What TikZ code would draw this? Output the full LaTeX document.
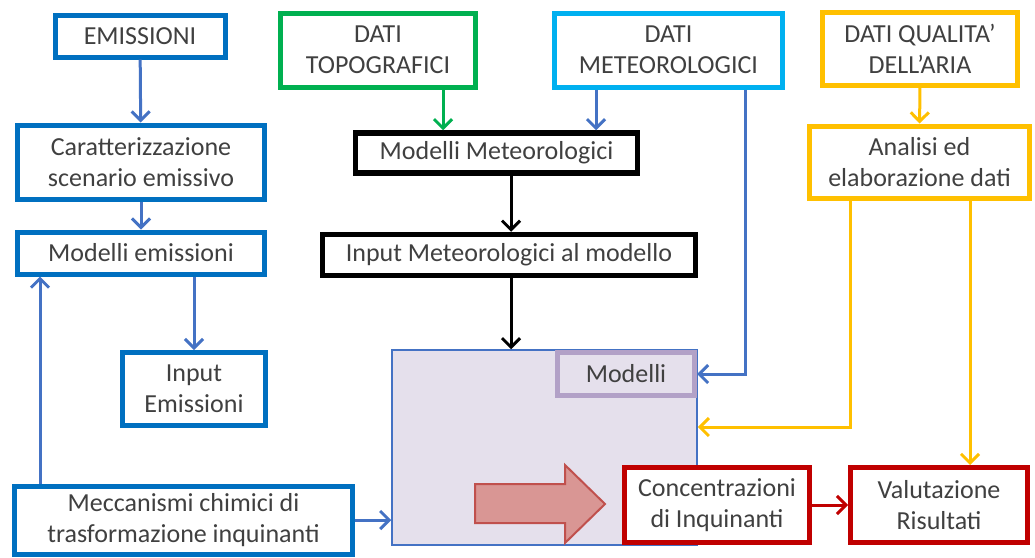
\documentclass[tikz,border=0pt]{standalone}
\usepackage{fontspec}
\setmainfont{Carlito}
\usetikzlibrary{arrows.meta}
\definecolor{boxblue}{RGB}{0,112,192}
\definecolor{lineblue}{RGB}{68,114,196}
\definecolor{topogreen}{RGB}{0,176,80}
\definecolor{meteoblue}{RGB}{0,176,240}
\definecolor{qorange}{RGB}{255,192,0}
\definecolor{dred}{RGB}{192,0,0}
\definecolor{lav}{RGB}{229,224,236}
\definecolor{purp}{RGB}{178,161,199}
\definecolor{bigarrowfill}{RGB}{217,150,148}
\definecolor{bigarrowdraw}{RGB}{192,80,77}
\definecolor{txt}{RGB}{64,64,64}
\begin{document}
\begin{tikzpicture}[x=1pt,y=-1pt,
  box/.style={draw, line width=5pt, fill=white, align=center, inner sep=0pt,
    font=\fontsize{26}{31}\selectfont, text=txt},
  conn/.style={line width=3pt, -{Straight Barb[length=9pt,width=18pt,line width=3pt]}},
]
\useasboundingbox[fill=white] (0,0) rectangle (1035,557);

% left column
\node[box, draw=boxblue, minimum width=170pt, minimum height=42pt] (emis) at (140,36) {EMISSIONI};
\node[box, draw=boxblue, minimum width=247pt, minimum height=74pt] (carat) at (141,162) {Caratterizzazione\\scenario emissivo};
\node[box, draw=boxblue, minimum width=247pt, minimum height=42pt] (modem) at (141,253) {Modelli emissioni};
\node[box, draw=boxblue, minimum width=143pt, minimum height=73pt] (inpem) at (194,389) {Input\\Emissioni};
\node[box, draw=boxblue, minimum width=338pt, minimum height=68pt] (mecc) at (183.5,520) {Meccanismi chimici di\\trasformazione inquinanti};

% top data
\node[box, draw=topogreen, minimum width=195pt, minimum height=74pt] (topo) at (378,50) {DATI\\TOPOGRAFICI};
\node[box, draw=meteoblue, minimum width=228pt, minimum height=74pt] (meteo) at (668.5,50) {DATI\\METEOROLOGICI};
\node[box, draw=qorange, minimum width=195pt, minimum height=73pt] (qual) at (920,49) {DATI QUALITA’\\DELL’ARIA};
\node[box, draw=qorange, minimum width=220pt, minimum height=72pt] (anal) at (919.5,162) {Analisi ed\\elaborazione dati};

% meteo models
\node[box, draw=black, line width=5.5pt, minimum width=282pt, minimum height=40pt] (mmet) at (496.5,153) {Modelli Meteorologici};
\node[box, draw=black, line width=5.5pt, minimum width=373pt, minimum height=41pt] (imet) at (509,255) {Input Meteorologici al modello};

% big model box
\node[draw=lineblue, line width=1.5pt, fill=lav, minimum width=305pt, minimum height=195pt, inner sep=0pt] (big) at (544.5,447.5) {};
\node[box, draw=purp, fill=lav, minimum width=137pt, minimum height=43pt] (modelli) at (626,374) {Modelli};

% big block arrow
\draw[fill=bigarrowfill, draw=bigarrowdraw, line width=2pt, line join=miter]
  (475,484) -- (565,484) -- (565,465) -- (605,504) -- (565,543) -- (565,523) -- (475,523) -- cycle;

% results
\node[box, draw=dred, minimum width=185pt, minimum height=75pt] (conc) at (717,505) {Concentrazioni\\di Inquinanti};
\node[box, draw=dred, minimum width=177pt, minimum height=75pt] (valut) at (939,505) {Valutazione\\Risultati};

% connectors
\draw[conn, lineblue] (emis) -- (carat);
\draw[conn, lineblue] (carat) -- (modem);
\draw[conn, lineblue] (modem.south -| inpem.north) -- (inpem.north);
\draw[conn, lineblue] ([xshift=28pt]mecc.north west) -- ([xshift=28pt]mecc.north west |- modem.south);
\draw[conn, lineblue] (mecc.east) -- (mecc.east -| big.west);

\draw[conn, topogreen] ([xshift=65pt]topo.south) -- ([xshift=65pt]topo.south |- mmet.north);
\draw[conn, lineblue] ([xshift=-72.5pt]meteo.south) -- ([xshift=-72.5pt]meteo.south |- mmet.north);
\draw[conn, black] ([xshift=14.5pt]mmet.south) -- ([xshift=14.5pt]mmet.south |- imet.north);
\draw[conn, black] ([xshift=2pt]imet.south) -- ([xshift=2pt]imet.south |- big.north);

\draw[conn, lineblue] ([xshift=76.5pt]meteo.south) |- (modelli.east);
\draw[conn, qorange] (qual) -- (anal);
\draw[conn, qorange] ([xshift=-69.5pt]anal.south) |- ([yshift=20.5pt]big.east);
\draw[conn, qorange] ([xshift=50.5pt]anal.south) -- ([xshift=50.5pt]anal.south |- valut.north);
\draw[conn, dred] (conc) -- (valut);
\end{tikzpicture}
\end{document}
